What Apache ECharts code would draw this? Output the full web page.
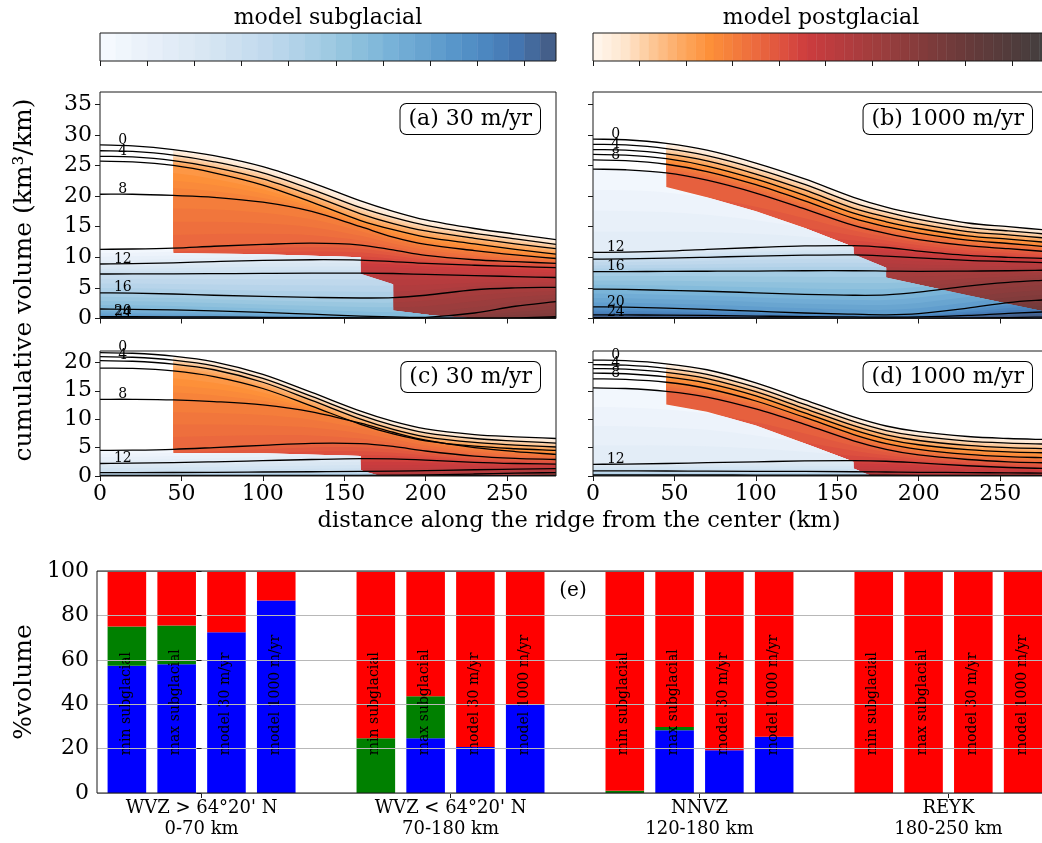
<!DOCTYPE html>
<html>
<head>
<meta charset="utf-8">
<script src="https://cdn.jsdelivr.net/npm/echarts@6/dist/echarts.min.js"></script>
<style>
  html, body { margin: 0; padding: 0; background: #fff; }
  #chart { width: 1042px; height: 843px; }
</style>
</head>
<body>
<div id="chart"></div>
<script>
const FONT = 'DejaVu Serif';

// ---------------------------------------------------------------
// Isochrons: cumulative volume (km3/km) erupted up to each age,
// sampled along the ridge.
// ---------------------------------------------------------------
const distanceKm = [0, 20, 45, 70, 100, 130, 160, 180, 200, 230, 255, 280];
const isochronAges = [0, 2, 4, 6, 8, 10, 12, 14, 16, 18, 20, 22, 24];

// (a) 30 m/yr, full volume
const volumeA = [
  [28.35, 28.2, 27.6, 26.6, 24.8, 22.2, 19.2, 17.5, 16.1, 14.7, 13.8, 12.9],
  [27.4, 27.3, 26.7, 25.6, 23.8, 21.1, 18.1, 16.5, 15.2, 13.9, 13.0, 12.1],
  [26.5, 26.4, 25.8, 24.7, 22.8, 20.1, 17.1, 15.5, 14.3, 13.1, 12.2, 11.4],
  [25.7, 25.6, 25.0, 23.8, 21.8, 19.0, 16.0, 14.5, 13.3, 12.2, 11.3, 10.5],
  [20.3, 20.3, 20.1, 19.8, 19.0, 17.5, 15.0, 13.3, 12.1, 11.1, 10.4, 9.8],
  [11.3, 11.35, 11.5, 11.8, 12.1, 12.3, 12.0, 11.2, 10.3, 9.6, 9.3, 9.0],
  [8.9, 8.95, 9.1, 9.3, 9.5, 9.6, 9.55, 9.3, 9.0, 8.7, 8.5, 8.3],
  [7.27, 7.28, 7.3, 7.33, 7.37, 7.4, 7.4, 7.35, 7.2, 7.0, 6.85, 6.7],
  [4.2, 4.15, 4.0, 3.8, 3.6, 3.45, 3.35, 3.4, 3.8, 4.7, 5.0, 5.1],
  [1.55, 1.5, 1.4, 1.25, 1.0, 0.7, 0.4, 0.25, 0.2, 0.9, 2.0, 2.75],
  [0.3, 0.3, 0.28, 0.25, 0.2, 0.15, 0.1, 0.07, 0.05, 0.05, 0.1, 0.3],
  [0.08, 0.08, 0.07, 0.06, 0.05, 0.04, 0.03, 0.02, 0.02, 0.02, 0.03, 0.08],
  [0.02, 0.02, 0.02, 0.01, 0.01, 0.01, 0.01, 0.0, 0.0, 0.0, 0.0, 0.02]
];

// (b) 1000 m/yr, full volume
const volumeB = [
  [29.3, 29.2, 28.6, 27.5, 25.4, 22.8, 19.8, 18.2, 17.0, 15.6, 15.0, 14.4],
  [28.45, 28.35, 27.75, 26.6, 24.5, 21.9, 18.9, 17.4, 16.2, 14.9, 14.3, 13.75],
  [27.6, 27.5, 26.9, 25.75, 23.6, 21.0, 18.0, 16.6, 15.45, 14.2, 13.65, 13.1],
  [26.8, 26.7, 26.1, 24.9, 22.75, 20.1, 17.2, 15.8, 14.7, 13.5, 12.95, 12.4],
  [25.9, 25.8, 25.2, 24.0, 21.85, 19.2, 16.35, 15.0, 13.95, 12.8, 12.25, 11.7],
  [24.4, 24.3, 23.8, 22.6, 20.5, 17.9, 15.2, 13.9, 12.9, 11.9, 11.4, 10.9],
  [10.8, 10.85, 11.0, 11.3, 11.6, 11.85, 11.9, 11.6, 11.0, 10.3, 10.0, 9.8],
  [9.7, 9.75, 9.85, 10.0, 10.2, 10.35, 10.4, 10.2, 9.9, 9.5, 9.3, 9.1],
  [7.65, 7.65, 7.7, 7.72, 7.75, 7.8, 7.8, 7.75, 7.7, 7.75, 7.8, 7.9],
  [4.8, 4.75, 4.6, 4.45, 4.2, 3.95, 3.8, 3.85, 4.3, 5.3, 5.9, 6.3],
  [1.9, 1.85, 1.7, 1.5, 1.2, 0.9, 0.7, 0.6, 0.8, 1.7, 2.6, 3.1],
  [0.6, 0.58, 0.55, 0.5, 0.4, 0.3, 0.25, 0.22, 0.25, 0.5, 0.85, 1.1],
  [0.15, 0.15, 0.14, 0.12, 0.1, 0.08, 0.06, 0.05, 0.05, 0.08, 0.15, 0.25]
];

// (c) 30 m/yr, reduced volume
const volumeC = [
  [21.7, 21.6, 21.1, 20.1, 17.9, 14.7, 11.4, 9.6, 8.3, 7.3, 6.9, 6.6],
  [21.0, 20.9, 20.4, 19.4, 17.2, 14.0, 10.7, 8.9, 7.6, 6.6, 6.15, 5.8],
  [20.3, 20.2, 19.7, 18.7, 16.5, 13.3, 10.0, 8.2, 6.9, 5.9, 5.45, 5.1],
  [19.0, 18.95, 18.5, 17.5, 15.4, 12.3, 9.1, 7.4, 6.2, 5.25, 4.8, 4.5],
  [13.5, 13.5, 13.4, 13.1, 12.5, 11.3, 9.3, 7.7, 6.3, 5.0, 4.3, 3.8],
  [4.5, 4.55, 4.7, 5.0, 5.4, 5.75, 5.7, 5.2, 4.4, 3.5, 3.1, 2.9],
  [2.2, 2.25, 2.35, 2.5, 2.7, 2.9, 3.05, 3.0, 2.8, 2.4, 2.2, 2.1],
  [0.6, 0.6, 0.62, 0.65, 0.7, 0.75, 0.8, 0.85, 0.95, 1.1, 1.2, 1.3],
  [0.1, 0.1, 0.1, 0.1, 0.1, 0.1, 0.12, 0.15, 0.2, 0.35, 0.5, 0.6],
  [0.0, 0.0, 0.0, 0.0, 0.0, 0.0, 0.0, 0.0, 0.02, 0.05, 0.08, 0.1]
];

// (d) 1000 m/yr, reduced volume
const volumeD = [
  [20.4, 20.3, 19.75, 18.7, 16.4, 13.4, 10.4, 8.8, 7.8, 6.95, 6.6, 6.4],
  [19.6, 19.5, 18.95, 17.9, 15.6, 12.6, 9.6, 8.0, 7.0, 6.15, 5.8, 5.6],
  [18.9, 18.8, 18.25, 17.15, 14.85, 11.85, 8.85, 7.25, 6.25, 5.4, 5.0, 4.8],
  [18.1, 18.0, 17.45, 16.35, 14.1, 11.1, 8.1, 6.5, 5.5, 4.65, 4.25, 4.06],
  [17.1, 17.0, 16.5, 15.4, 13.2, 10.3, 7.3, 5.7, 4.7, 3.8, 3.4, 3.2],
  [15.5, 15.4, 14.9, 13.9, 11.8, 9.1, 6.2, 4.7, 3.7, 2.9, 2.5, 2.3],
  [2.06, 2.1, 2.2, 2.35, 2.5, 2.65, 2.7, 2.6, 2.3, 1.8, 1.5, 1.3],
  [0.9, 0.9, 0.88, 0.85, 0.82, 0.8, 0.75, 0.7, 0.65, 0.6, 0.55, 0.5],
  [0.2, 0.2, 0.2, 0.18, 0.17, 0.15, 0.14, 0.13, 0.12, 0.11, 0.1, 0.1],
  [0.0, 0.0, 0.0, 0.0, 0.0, 0.0, 0.0, 0.0, 0.0, 0.0, 0.0, 0.0]
];

// Lower edge of the postglacial field, [distance km, volume]
const postglacialEdgeA = [[45, 10.7], [100, 10.5], [160, 10.0], [160, 7.3], [180, 5.6], [180, 1.3], [205, 0.5], [230, 0], [280, 0]];
const postglacialEdgeB = [[45, 21.5], [70, 19.8], [100, 17.5], [130, 14.8], [160, 11.7], [160, 10.5], [180, 8.3], [180, 6.7], [230, 3.8], [280, 1.0]];
const postglacialEdgeC = [[45, 4.05], [100, 4.0], [160, 3.5], [160, 1.0], [172, 0], [280, 0]];
const postglacialEdgeD = [[45, 12.6], [70, 11.3], [100, 8.9], [136, 5.1], [160, 2.5], [160, 1.3], [171, 0], [280, 0]];

const distanceTicks = [0, 50, 100, 150, 200, 250];
const volumeTicksTall = [0, 5, 10, 15, 20, 25, 30, 35];
const volumeTicksShort = [0, 5, 10, 15, 20];

// Colour scales
const subglacialLevels = 29;
const postglacialLevels = 49;
const subglacialStops = ['#f5f9fe', '#ebf2fa', '#e2ecf7', '#d9e7f3', '#cde0f0', '#c1d9ed', '#b1d2e8',
  '#9fcae2', '#8bbfdc', '#78b2d8', '#68a4d0', '#5896ca', '#4c87c0', '#4475b0', '#445f8a'];
const postglacialStops = [[0, '#fff5eb'], [0.06, '#fee6ce'], [0.12, '#fdc898'], [0.18, '#fdac67'],
  [0.25, '#fd9039'], [0.30, '#f57f3b'], [0.36, '#eb683e'], [0.42, '#dc4f3f'], [0.47, '#cc3c3e'],
  [0.55, '#b53c3e'], [0.65, '#983d3d'], [0.75, '#7c3b3b'], [0.85, '#623a3a'], [0.95, '#4c3c3c'], [1, '#444040']];

// ---------------------------------------------------------------
// Panel (e): share of the erupted volume by zone
// ---------------------------------------------------------------
const zoneNames = ["WVZ > 64°20' N\n0-70 km", "WVZ < 64°20' N\n70-180 km", 'NNVZ\n120-180 km', 'REYK\n180-250 km'];
const estimateNames = ['min subglacial', 'max subglacial', 'model 30 m/yr', 'model 1000 m/yr'];
const subglacialPct   = [[57.3, 58.0, 72.4, 86.7], [0, 24.7, 20.7, 39.9], [0, 28.3, 19.3, 25.3], [0, 0, 0, 0]];
const undeterminedPct = [[17.7, 17.4, 0, 0], [24.7, 18.9, 0, 0], [1.0, 1.4, 0, 0], [0, 0, 0, 0]];
const postglacialPct  = [[25.0, 24.6, 27.6, 13.3], [75.3, 56.4, 79.3, 60.1], [99.0, 70.3, 80.7, 74.7], [100, 100, 100, 100]];
const percentTicks = [0, 20, 40, 60, 80, 100];

// ---------------------------------------------------------------
function hexToRgb(h) {
  return [parseInt(h.slice(1, 3), 16), parseInt(h.slice(3, 5), 16), parseInt(h.slice(5, 7), 16)];
}
function mix(c0, c1, f) {
  const a = hexToRgb(c0), b = hexToRgb(c1);
  return 'rgb(' + a.map((v, i) => Math.round(v + (b[i] - v) * f)).join(',') + ')';
}
function scaleColor(stops, t) {
  t = Math.max(0, Math.min(1, t));
  for (let i = 0; i < stops.length - 1; i++) {
    if (t <= stops[i + 1][0]) {
      return mix(stops[i][1], stops[i + 1][1], (t - stops[i][0]) / (stops[i + 1][0] - stops[i][0]));
    }
  }
  return stops[stops.length - 1][1];
}
const subStops = subglacialStops.map((c, i) => [i / (subglacialStops.length - 1), c]);
const subglacialColor = t => scaleColor(subStops, t);
const postglacialColor = t => scaleColor(postglacialStops, t);
const ageToPost = age => age / 27;
const ageToSub = age => (age - 10) / 13;

// Smooth path through pixel points (cubic Hermite, x-monotone)
function curvePath(pts) {
  const n = pts.length;
  const m = pts.map((p, i) => {
    const a = pts[Math.max(i - 1, 0)], b = pts[Math.min(i + 1, n - 1)];
    return (b[1] - a[1]) / (b[0] - a[0]);
  });
  let d = 'M' + pts[0][0] + ' ' + pts[0][1];
  for (let i = 0; i < n - 1; i++) {
    const h = pts[i + 1][0] - pts[i][0];
    d += ' C' + (pts[i][0] + h / 3) + ' ' + (pts[i][1] + m[i] * h / 3) + ' ' +
      (pts[i + 1][0] - h / 3) + ' ' + (pts[i + 1][1] - m[i + 1] * h / 3) + ' ' +
      pts[i + 1][0] + ' ' + pts[i + 1][1];
  }
  return d;
}

const SUBLEVELS = 4;
const LABEL_KM = 14;

const panels = [
  { axis: 2, lines: volumeA, edge: postglacialEdgeA, ymax: 37, labels: [0, 4, 8, 12, 16, 20, 24] },
  { axis: 3, lines: volumeB, edge: postglacialEdgeB, ymax: 37, labels: [0, 4, 8, 12, 16, 20, 24] },
  { axis: 4, lines: volumeC, edge: postglacialEdgeC, ymax: 22, labels: [0, 4, 8, 12] },
  { axis: 5, lines: volumeD, edge: postglacialEdgeD, ymax: 22, labels: [0, 4, 8, 12] }
];

function regionPolygons(p) {
  const top = p.ymax + 2;
  const last = p.edge[p.edge.length - 1];
  const post = [[45, top], [282, top], [282, last[1]]].concat(p.edge.slice().reverse());
  const sub = [[-2, top], [45, top]].concat(p.edge, [[282, last[1]], [282, -2], [-2, -2]]);
  return { post, sub };
}

function fillSeries(p) {
  const reg = regionPolygons(p);
  return {
    type: 'custom', xAxisIndex: p.axis, yAxisIndex: p.axis, clip: true, z: 1, silent: true,
    data: p.lines.slice(0, -1).map((row, i) => [i, 0]),
    renderItem(params, api) {
      const i = api.value(0);
      const up = p.lines[i].map((v, k) => api.coord([distanceKm[k], v]));
      const lo = p.lines[i + 1].map((v, k) => api.coord([distanceKm[k], v]));
      const yb = api.coord([0, 0])[1] + 4;
      const a0 = isochronAges[i], a1 = isochronAges[i + 1];
      const postKids = [], subKids = [];
      for (let j = 0; j < SUBLEVELS; j++) {
        const f = j / SUBLEVELS;
        const pts = up.map((q, k) => [q[0], q[1] + (lo[k][1] - q[1]) * f]);
        const d = curvePath(pts) + ' L' + pts[pts.length - 1][0] + ' ' + yb + ' L' + pts[0][0] + ' ' + yb + ' Z';
        const age = a0 + (a1 - a0) * (j + 0.5) / SUBLEVELS;
        postKids.push({ type: 'path', shape: { pathData: d }, style: { fill: postglacialColor(ageToPost(age)) } });
        if (age >= 10) {
          subKids.push({ type: 'path', shape: { pathData: d }, style: { fill: subglacialColor(ageToSub(age)) } });
        }
      }
      return {
        type: 'group',
        children: [
          { type: 'group', clipPath: { type: 'polygon', shape: { points: reg.post.map(q => api.coord(q)) } }, children: postKids },
          { type: 'group', clipPath: { type: 'polygon', shape: { points: reg.sub.map(q => api.coord(q)) } }, children: subKids }
        ]
      };
    }
  };
}

function isochronSeries(p) {
  return {
    type: 'custom', xAxisIndex: p.axis, yAxisIndex: p.axis, clip: true, z: 3, silent: true,
    data: p.lines.map((row, i) => [i, 0]),
    renderItem(params, api) {
      const i = api.value(0);
      const pts = p.lines[i].map((v, k) => api.coord([distanceKm[k], v]));
      return { type: 'path', shape: { pathData: curvePath(pts) }, style: { fill: 'none', stroke: '#000', lineWidth: 1.3 } };
    }
  };
}

function ageLabelSeries(p) {
  const items = [];
  p.lines.forEach((row, i) => { if (p.labels.indexOf(isochronAges[i]) >= 0) items.push([i, 0]); });
  return {
    type: 'custom', xAxisIndex: p.axis, yAxisIndex: p.axis, clip: false, z: 4, silent: true,
    data: items,
    renderItem(params, api) {
      const i = api.value(0);
      const q = api.coord([LABEL_KM, p.lines[i][0]]);
      return {
        type: 'text', x: q[0], y: q[1] + 2,
        style: { text: String(isochronAges[i]), font: '14px "' + FONT + '"', fill: '#000', align: 'center', verticalAlign: 'bottom' }
      };
    }
  };
}

function colorbarSeries(axis, levels, colorFn) {
  const cells = [];
  for (let i = 0; i < levels; i++) cells.push([i, 0.5]);
  return {
    type: 'custom', xAxisIndex: axis, yAxisIndex: axis, clip: true, silent: true,
    data: cells,
    renderItem(params, api) {
      const i = api.value(0);
      const p0 = api.coord([i, 1]), p1 = api.coord([i + 1, 0]);
      const c = colorFn(i / (levels - 1));
      return { type: 'rect', shape: { x: p0[0], y: p0[1], width: p1[0] - p0[0], height: p1[1] - p0[1] },
        style: { fill: c, stroke: c, lineWidth: 0.5 } };
    }
  };
}

const BAR_PITCH = 0.2;
const BAR_WIDTH = 0.155;
function barSeries(name, pcts, below, color) {
  const data = [];
  pcts.forEach((row, g) => row.forEach((v, b) => data.push([g, b, v])));
  return {
    type: 'custom', name, xAxisIndex: 6, yAxisIndex: 6, clip: true, z: 2, silent: true,
    data,
    renderItem(params, api) {
      const g = api.value(0), b = api.value(1), v = api.value(2);
      if (!(v > 0)) return null;
      let base = 0;
      below.forEach(arr => { base += arr[g][b]; });
      const xc = g + (b - 1.5) * BAR_PITCH;
      const p0 = api.coord([xc - BAR_WIDTH / 2, base + v]);
      const p1 = api.coord([xc + BAR_WIDTH / 2, base]);
      return { type: 'rect', shape: { x: p0[0], y: p0[1], width: p1[0] - p0[0], height: p1[1] - p0[1] }, style: { fill: color } };
    }
  };
}

function barNameSeries() {
  const data = [];
  zoneNames.forEach((z, g) => estimateNames.forEach((e, b) => data.push([g, b])));
  return {
    type: 'custom', xAxisIndex: 6, yAxisIndex: 6, clip: false, z: 4, silent: true,
    data,
    renderItem(params, api) {
      const g = api.value(0), b = api.value(1);
      const q = api.coord([g + (b - 1.5) * BAR_PITCH, 17]);
      return {
        type: 'text', x: q[0] - 1, y: q[1], rotation: Math.PI / 2,
        style: { text: estimateNames[b], font: '14px "' + FONT + '"', fill: '#000', align: 'left', verticalAlign: 'middle' }
      };
    }
  };
}

// ---------------------------------------------------------------
const frame = { show: true, borderColor: '#1a1a1a', borderWidth: 1, backgroundColor: 'transparent', z: 10, outerBoundsMode: 'none', containLabel: false };
const grids = [
  Object.assign({ left: 100, top: 33, width: 456, height: 28 }, frame),
  Object.assign({ left: 593, top: 33, width: 456, height: 28 }, frame),
  Object.assign({ left: 100, top: 92, width: 456, height: 226.5 }, frame),
  Object.assign({ left: 593, top: 92, width: 456, height: 226.5 }, frame),
  Object.assign({ left: 100, top: 351, width: 456, height: 125 }, frame),
  Object.assign({ left: 593, top: 351, width: 456, height: 125 }, frame),
  Object.assign({ left: 97, top: 571, width: 956, height: 222 }, frame)
];

const tickStyle = { show: true, length: 5, lineStyle: { color: '#1a1a1a', width: 1 } };
const labelStyle = { fontFamily: FONT, fontSize: 22, color: '#000' };

function cbTicks(levels, step) {
  const v = [];
  for (let i = 0; i < levels; i += step) v.push(i);
  return v;
}

const xAxes = [
  { gridIndex: 0, type: 'value', min: 0, max: subglacialLevels, axisLine: { show: false },
    axisTick: Object.assign({ customValues: cbTicks(subglacialLevels, 3) }, tickStyle), axisLabel: { show: false }, splitLine: { show: false } },
  { gridIndex: 1, type: 'value', min: 0, max: postglacialLevels, axisLine: { show: false },
    axisTick: Object.assign({ customValues: cbTicks(postglacialLevels, 5) }, tickStyle), axisLabel: { show: false }, splitLine: { show: false } }
];
const yAxes = [
  { gridIndex: 0, type: 'value', min: 0, max: 1, show: false },
  { gridIndex: 1, type: 'value', min: 0, max: 1, show: false }
];
panels.forEach((p, k) => {
  xAxes.push({
    gridIndex: p.axis, type: 'value', min: 0, max: 280, axisLine: { show: false },
    axisTick: Object.assign({ customValues: distanceTicks }, tickStyle),
    axisLabel: Object.assign({ show: k >= 2, customValues: distanceTicks, margin: 7 }, labelStyle),
    splitLine: { show: false }
  });
  const yt = p.ymax > 30 ? volumeTicksTall : volumeTicksShort;
  yAxes.push({
    gridIndex: p.axis, type: 'value', min: 0, max: p.ymax, axisLine: { show: false },
    axisTick: Object.assign({ customValues: yt }, tickStyle),
    axisLabel: Object.assign({ show: k % 2 === 0, customValues: yt, margin: 8 }, labelStyle),
    splitLine: { show: false }
  });
});
xAxes.push({
  gridIndex: 6, type: 'value', min: -0.42, max: 3.42, axisLine: { show: false },
  axisTick: Object.assign({ customValues: [0, 1, 2, 3] }, tickStyle),
  axisLabel: { customValues: [0, 1, 2, 3], formatter: v => zoneNames[Math.round(v)], fontFamily: FONT, fontSize: 18, lineHeight: 21, color: '#000', margin: 5 },
  splitLine: { show: false }
});
yAxes.push({
  gridIndex: 6, type: 'value', min: 0, max: 100, interval: 20, z: 5, axisLine: { show: false },
  axisTick: Object.assign({ customValues: percentTicks }, tickStyle),
  axisLabel: Object.assign({ customValues: percentTicks, margin: 8 }, labelStyle),
  splitLine: { show: true, lineStyle: { color: '#b8b8b8', width: 1 } }
});

const series = [
  colorbarSeries(0, subglacialLevels, subglacialColor),
  colorbarSeries(1, postglacialLevels, postglacialColor)
];
panels.forEach(p => { series.push(fillSeries(p), isochronSeries(p), ageLabelSeries(p)); });
series.push(
  barSeries('subglacial', subglacialPct, [], '#0000ff'),
  barSeries('undetermined', undeterminedPct, [subglacialPct], '#008000'),
  barSeries('postglacial', postglacialPct, [subglacialPct, undeterminedPct], '#ff0000'),
  barNameSeries()
);

function txt(text, x, y, size, extra) {
  return Object.assign({
    type: 'text', x, y, silent: true, z: 20,
    style: { text, font: size + 'px "' + FONT + '"', fill: '#000', align: 'center', verticalAlign: 'middle' }
  }, extra || {});
}
function tag(text, right, y) {
  return {
    type: 'text', x: right, y, silent: true, z: 20,
    style: { text, font: '22px "' + FONT + '"', fill: '#000', align: 'right', verticalAlign: 'middle',
      backgroundColor: '#fff', borderColor: '#000', borderWidth: 1, borderRadius: 6, padding: [4, 8, 4, 8] }
  };
}

const graphics = [
  txt('model subglacial', 328, 18, 22),
  txt('model postglacial', 821, 18, 22),
  txt('cumulative volume (km³/km)', 24, 280, 25, { rotation: Math.PI / 2 }),
  txt('distance along the ridge from the center (km)', 579, 521, 22.5),
  txt('%volume', 24, 682, 25, { rotation: Math.PI / 2 }),
  txt('(e)', 573, 591, 20),
  tag('(a) 30 m/yr', 540, 119),
  tag('(b) 1000 m/yr', 1032, 119),
  tag('(c) 30 m/yr', 540, 377),
  tag('(d) 1000 m/yr', 1032, 377)
];

const chart = echarts.init(document.getElementById('chart'), null, { renderer: 'canvas' });
chart.setOption({
  animation: false,
  backgroundColor: '#fff',
  textStyle: { fontFamily: FONT },
  grid: grids,
  xAxis: xAxes,
  yAxis: yAxes,
  series,
  graphic: graphics
});
</script>
</body>
</html>
